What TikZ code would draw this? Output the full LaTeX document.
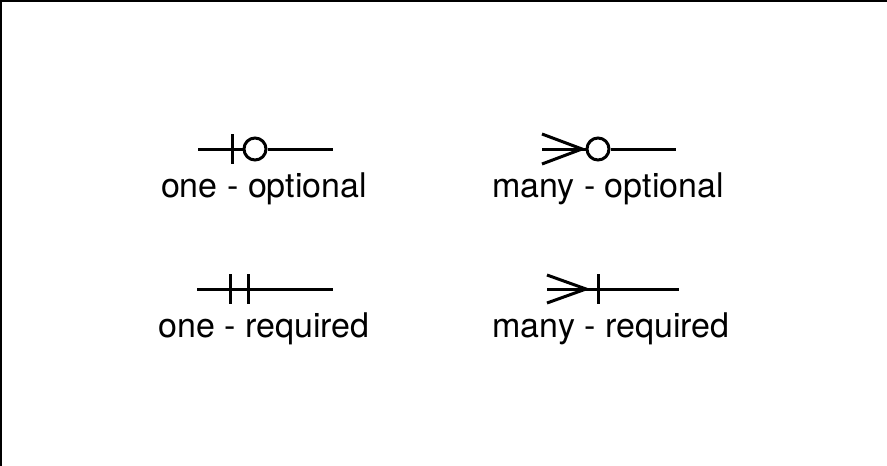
\documentclass[tikz,border=0pt]{standalone}
\usepackage{fontspec}
\setmainfont{TeX Gyre Heros}
\usetikzlibrary{positioning,calc}

\tikzset{
  rel/.style={line width=3pt},
  lbl/.style={anchor=base, inner sep=0pt, font=\fontsize{34}{40}\selectfont},
  ring/.style={circle, draw, line width=3pt, minimum size=22pt, inner sep=0pt},
}

\begin{document}
\begin{tikzpicture}[x=1pt,y=-1pt]
  \useasboundingbox (0,0) rectangle (887,466);
  \draw[line width=2pt] (0,1) -- (887,1);
  \draw[line width=1.5pt] (0.75,0) -- (0.75,466);

  % one - optional
  \coordinate (oo-l) at (198,149);
  \coordinate (oo-r) at (333,149);
  \node[ring] (oo-c) at (255,149) {};
  \coordinate (oo-t) at (232,149);
  \draw[rel] (oo-l) -- (oo-c) (oo-c) -- (oo-r);
  \draw[rel] ($(oo-t)+(0,-15)$) -- ($(oo-t)+(0,15)$);
  \node[lbl] (oo) at (264,197) {one - optional};

  % many - optional
  \coordinate (mo-l) at (542,149);
  \coordinate (mo-r) at (676,149);
  \node[ring] (mo-c) at (598,149) {};
  \coordinate (mo-v) at (582,149);
  \draw[rel] (mo-l) -- (mo-c) (mo-c) -- (mo-r);
  \draw[rel] ($(mo-l)+(0,-15)$) -- (mo-v) -- ($(mo-l)+(0,15)$);
  \node[lbl] (mo) at (608,197) {many - optional};

  % one - required
  \coordinate (or-l) at (197,289);
  \coordinate (or-r) at (333,289);
  \coordinate (or-t) at (230,289);
  \coordinate (or-u) at (248,289);
  \draw[rel] (or-l) -- (or-r);
  \draw[rel] ($(or-t)+(0,-15)$) -- ($(or-t)+(0,15)$);
  \draw[rel] ($(or-u)+(0,-15)$) -- ($(or-u)+(0,15)$);
  \node[lbl] (or) at (264,337) {one - required};

  % many - required
  \coordinate (mr-l) at (547,289);
  \coordinate (mr-r) at (679,289);
  \coordinate (mr-v) at (586,289);
  \coordinate (mr-t) at (598,289);
  \draw[rel] (mr-l) -- (mr-r);
  \draw[rel] ($(mr-l)+(0,-14)$) -- (mr-v) -- ($(mr-l)+(0,14)$);
  \draw[rel] ($(mr-t)+(0,-15)$) -- ($(mr-t)+(0,15)$);
  \node[lbl] (mr) at (611,337) {many - required};
\end{tikzpicture}
\end{document}
